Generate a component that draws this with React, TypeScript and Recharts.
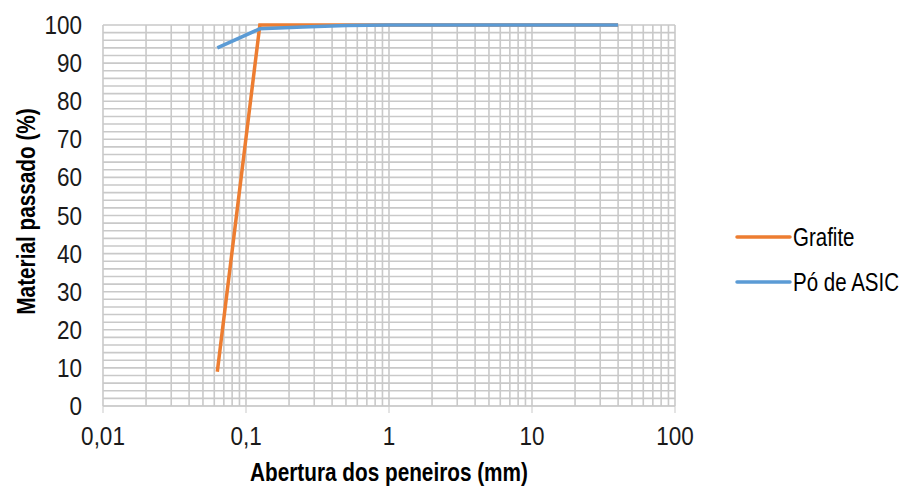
import React from 'react';
import { LineChart, Line, XAxis, YAxis, CartesianGrid } from 'recharts';

const sieveSizes = [0.063, 0.125, 0.25, 0.5, 1, 2, 4, 8, 16, 31.5, 40];
const grafite = [9, 100, 100, 100, 100, 100, 100, 100, 100, 100, 100];
const poAsic = [94, 99, 99.5, 99.9, 100, 100, 100, 100, 100, 100, 100];
const seriesNames = ['Grafite', 'Pó de ASIC'];
const seriesColors = ['#ed7d31', '#5b9bd5'];
const xTicks = [0.01, 0.1, 1, 10, 100];
const yTicks = [0, 10, 20, 30, 40, 50, 60, 70, 80, 90, 100];
const yGrid = Array.from({ length: 51 }, (_, i) => i * 2);
const xGrid: number[] = [];
[0.01, 0.1, 1, 10].forEach((d) => {
  for (let k = 1; k <= 9; k++) xGrid.push(+(d * k).toPrecision(3));
});
xGrid.push(100);

const data = sieveSizes.map((s, i) => ({ x: s, g: grafite[i], p: poAsic[i] }));

const FONT = "'Liberation Sans', Arial, sans-serif";

const fmt = (v: number) => String(v).replace('.', ',');

const XTick = (props: any) => {
  const { x, y, payload } = props;
  return (
    <g transform={`translate(${x},${y})`}>
      <text transform="scale(0.9,1)" textAnchor="middle" dy="0.71em" fill="#1a1a1a" fontSize={25} fontFamily={FONT}>
        {fmt(payload.value)}
      </text>
    </g>
  );
};

const YTick = (props: any) => {
  const { x, y, payload } = props;
  return (
    <g transform={`translate(${x},${y})`}>
      <text transform="scale(0.9,1)" textAnchor="end" dy="0.36em" fill="#1a1a1a" fontSize={25} fontFamily={FONT}>
        {fmt(payload.value)}
      </text>
    </g>
  );
};

const hGen = (props: any) => {
  const s = props?.yAxis?.scale;
  if (typeof s === 'function') return yGrid.map((v) => s(v));
  const { top, height } = props.offset;
  return yGrid.map((v) => top + height * (1 - v / 100));
};

const vGen = (props: any) => {
  const s = props?.xAxis?.scale;
  if (typeof s === 'function') return xGrid.map((v) => s(v));
  const { left, width } = props.offset;
  return xGrid.map((v) => left + (width * (Math.log10(v) + 2)) / 4);
};

export default function App() {
  return (
    <div style={{ position: 'absolute', left: 0, top: 0, width: 905, height: 488, background: '#fff' }}>
      <LineChart width={905} height={488} data={data} margin={{ top: 25, right: 230, bottom: 22, left: 0 }}>
        <CartesianGrid
          stroke="#c9c9c9"
          strokeWidth={1.6}
          horizontalCoordinatesGenerator={hGen}
          verticalCoordinatesGenerator={vGen}
        />
        <XAxis
          dataKey="x"
          type="number"
          scale="log"
          domain={[0.01, 100]}
          ticks={xTicks}
          allowDataOverflow
          height={60}
          stroke="#c9c9c9"
          tickSize={7}
          tickMargin={14}
          tick={<XTick />}
          label={{
            content: (props: any) => {
              const vb = props.viewBox;
              const cx = vb.x + vb.width / 2;
              const cy = vb.y + 75;
              return (
                <text transform={`translate(${cx},${cy}) scale(0.83,1)`} textAnchor="middle"
                  style={{ fontFamily: FONT, fontSize: 25, fontWeight: 'bold', fill: '#000' }}>
                  Abertura dos peneiros (mm)
                </text>
              );
            },
          }}
        />
        <YAxis
          type="number"
          domain={[0, 100]}
          ticks={yTicks}
          width={103}
          axisLine={false}
          tickLine={false}
          tickSize={0}
          tickMargin={21}
          tick={<YTick />}
          label={{
            content: (props: any) => {
              const vb = props.viewBox;
              const cx = vb.x + 26;
              const cy = vb.y + vb.height / 2 - 4;
              return (
                <text transform={`translate(${cx},${cy}) rotate(-90) scale(0.83,1)`} textAnchor="middle" dominantBaseline="central"
                  style={{ fontFamily: FONT, fontSize: 25, fontWeight: 'bold', fill: '#000' }}>
                  Material passado (%)
                </text>
              );
            },
          }}
        />
        <Line dataKey="g" name={seriesNames[0]} stroke={seriesColors[0]} strokeWidth={3.5} dot={false} isAnimationActive={false} />
        <Line dataKey="p" name={seriesNames[1]} stroke={seriesColors[1]} strokeWidth={3.5} dot={false} isAnimationActive={false} />
      </LineChart>
      <svg width={170} height={100} style={{ position: 'absolute', left: 735, top: 212 }}>
        {seriesNames.map((n, i) => (
          <g key={n} transform={`translate(0, ${25 + i * 45})`}>
            <line x1={2} y1={0} x2={55} y2={0} stroke={seriesColors[i]} strokeWidth={3.5} strokeLinecap="round" />
            <text transform="translate(58, 9) scale(0.82,1)" fontFamily={FONT} fontSize={25} fill="#000">
              {n}
            </text>
          </g>
        ))}
      </svg>
    </div>
  );
}
